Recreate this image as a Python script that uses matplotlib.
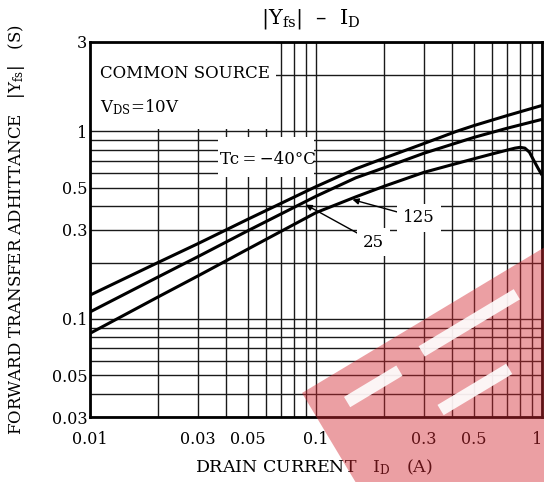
import numpy as np
import matplotlib.pyplot as plt
from matplotlib.ticker import FixedLocator, FixedFormatter, LogLocator, NullFormatter
from matplotlib.patches import Rectangle, Polygon

plt.rcParams['font.family'] = ['DejaVu Serif']
plt.rcParams['mathtext.fontset'] = 'dejavuserif'

# values: drain current (A) vs |Yfs| (S)
id_m40 = [0.01, 0.02, 0.03, 0.05, 0.1, 0.15, 0.2, 0.3, 0.417, 0.5, 0.7, 1.0]
yfs_m40 = [0.134, 0.200, 0.252, 0.3405, 0.508, 0.632, 0.72, 0.862, 1.0, 1.075, 1.215, 1.376]

id_25 = [0.01, 0.02, 0.03, 0.05, 0.1, 0.15, 0.2, 0.3, 0.5, 0.7, 1.0]
yfs_25 = [0.109, 0.1674, 0.2148, 0.2957, 0.4513, 0.566, 0.64, 0.765, 0.93, 1.04, 1.16]

id_125 = [0.01, 0.02, 0.03, 0.05, 0.1, 0.15, 0.2, 0.3, 0.4, 0.5, 0.6, 0.7, 0.76, 0.8,
          0.84, 0.88, 0.92, 0.96, 1.0]
yfs_125 = [0.0838, 0.131, 0.1695, 0.236, 0.369, 0.448, 0.51, 0.605, 0.665, 0.715, 0.758,
           0.795, 0.815, 0.823, 0.815, 0.775, 0.70, 0.637, 0.585]

x_ticks = [0.01, 0.03, 0.05, 0.1, 0.3, 0.5, 1]
x_labels = ['0.01', '0.03', '0.05', '0.1', '0.3', '0.5', '1']
y_ticks = [0.03, 0.05, 0.1, 0.3, 0.5, 1, 3]
y_labels = ['0.03', '0.05', '0.1', '0.3', '0.5', '1', '3']

W, H = 544, 482
fig = plt.figure(figsize=(W / 100, H / 100), dpi=100)
ax = fig.add_axes([90 / W, 1 - 417 / H, (542 - 90) / W, (417 - 42) / H])
ax.set_xscale('log')
ax.set_yscale('log')
ax.set_xlim(0.01, 1)
ax.set_ylim(0.03, 3)

for axis, ticks, labels in [(ax.xaxis, x_ticks, x_labels), (ax.yaxis, y_ticks, y_labels)]:
    axis.set_major_locator(FixedLocator(ticks))
    axis.set_major_formatter(FixedFormatter(labels))
    axis.set_minor_locator(LogLocator(base=10, subs=np.arange(1, 10), numticks=20))
    axis.set_minor_formatter(NullFormatter())

ax.tick_params(which='both', length=0, labelsize=11.5)
ax.tick_params(axis='x', pad=10)
ax.tick_params(axis='y', pad=2)
ax.get_xticklabels()[-1].set_horizontalalignment('right')
ax.grid(which='both', color='#1a1a1a', lw=1.0)
ax.set_axisbelow(True)
for s in ax.spines.values():
    s.set_linewidth(2)

# white patches that hide the grid behind the notes
ax.add_patch(Rectangle((0.01, 1.03), 0.0668 - 0.01, 3 - 1.03, facecolor='white',
                       edgecolor='none', zorder=1.5))
ax.add_patch(Rectangle((0.0369, 0.575), 0.098 - 0.0369, 0.93 - 0.575, facecolor='white',
                       edgecolor='none', zorder=1.5))

for xs, ys in [(id_m40, yfs_m40), (id_25, yfs_25), (id_125, yfs_125)]:
    ax.plot(xs, ys, color='black', lw=2.2, zorder=3, solid_capstyle='butt',
            solid_joinstyle='round')

ax.text(0.0111, 2.03, 'COMMON SOURCE', fontsize=12, va='center', ha='left', zorder=4)
ax.text(0.0111, 1.35, r'$\mathrm{V_{DS}}$=10V', fontsize=12, va='center', ha='left', zorder=4)
ax.text(0.0613, 0.705, 'Tc\u2009=\u2009\u221240\u00b0C', fontsize=12, va='center',
        ha='center', zorder=4)

box = dict(boxstyle='square,pad=0.35', facecolor='white', edgecolor='none')
arrow = dict(arrowstyle='-|>', color='black', lw=1.0, mutation_scale=9, shrinkA=0, shrinkB=0)
ax.annotate('125', xy=(0.145, 0.433), xytext=(0.285, 0.346), fontsize=12,
            ha='center', va='center', bbox=box, arrowprops=arrow, zorder=4)
ax.annotate('25', xy=(0.09, 0.407), xytext=(0.18, 0.257), fontsize=12,
            ha='center', va='center', bbox=box, arrowprops=arrow, zorder=4)

fig.text(311 / W, 1 - 19 / H, '$|\\mathrm{Y_{fs}}|$  \u2013  $\\mathrm{I_D}$', fontsize=15,
         ha='center', va='center')
fig.text(314 / W, 1 - 467 / H, r'DRAIN CURRENT   $\mathrm{I_D}$   (A)', fontsize=12.5,
         ha='center', va='center')
fig.text(17 / W, 1 - 230 / H, r'FORWARD TRANSFER ADHITTANCE   $|\mathrm{Y_{fs}}|$   (S)',
         fontsize=12, ha='center', va='center', rotation=90)

# pale red watermark in the lower right corner, with its white strokes
ang = np.deg2rad(31)
u = np.array([np.cos(ang), -np.sin(ang)])
v = np.array([np.sin(ang), np.cos(ang)])
corner = np.array([302.0, 393.0])


def wm_poly(s0, s1, t0, t1, **kw):
    pts = [corner + s * u + t * v for s, t in [(s0, t0), (s1, t0), (s1, t1), (s0, t1)]]
    pts = [(p[0] / W, 1 - p[1] / H) for p in pts]
    fig.patches.append(Polygon(pts, closed=True, transform=fig.transFigure,
                               edgecolor='none', **kw))


wm_poly(0, 400, 0, 400, facecolor='#d42a33', alpha=0.45, zorder=10)
for s0, s1, t0, t1 in [(34, 95, 25, 37), (124, 235, 20, 32), (110, 190, 80, 92)]:
    wm_poly(s0, s1, t0, t1, facecolor='white', alpha=0.9, zorder=11)

fig.savefig('out.png', dpi=100)
